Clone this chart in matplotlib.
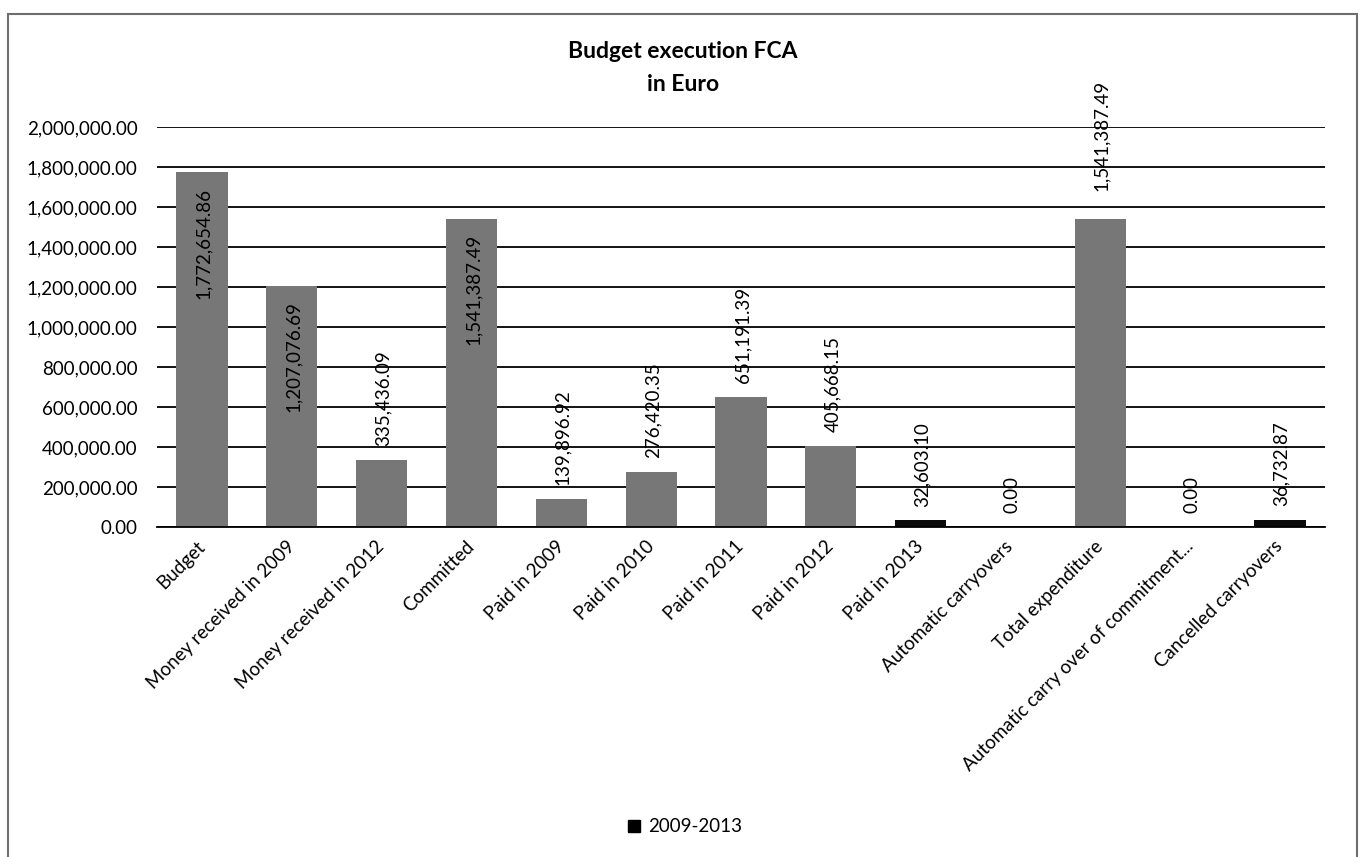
import matplotlib
matplotlib.use("Agg")
import matplotlib.pyplot as plt
from matplotlib.patches import Patch, Rectangle
from matplotlib.ticker import FuncFormatter, MultipleLocator

# categories and amounts (Euro)
categories = [
    "Budget",
    "Money received in 2009",
    "Money received in 2012",
    "Committed",
    "Paid in 2009",
    "Paid in 2010",
    "Paid in 2011",
    "Paid in 2012",
    "Paid in 2013",
    "Automatic carryovers",
    "Total expenditure",
    "Automatic carry over of commitment...",
    "Cancelled carryovers",
]
amounts = [
    1772654.86,
    1207076.69,
    335436.09,
    1541387.49,
    139896.92,
    276420.35,
    651191.39,
    405668.15,
    32603.10,
    0.00,
    1541387.49,
    0.00,
    36732.87,
]
series_name = "2009-2013"


def show_data():
    plt.rcParams['font.family'] = ['Lato', 'DejaVu Sans']
    fig = plt.figure(figsize=(13.6, 8.57), dpi=100)
    ax = fig.add_axes([157 / 1360, 1 - 527 / 857, 1168 / 1360, 400 / 857])

    # bar colours: grey, with the two small ones in black
    dark = {"Paid in 2013", "Cancelled carryovers"}
    colors = ["#0a0a0a" if c in dark else "#777777" for c in categories]
    x = list(range(len(categories)))
    ax.bar(x, amounts, width=0.57, color=colors, zorder=3)

    # value labels: inside the top for the tall bars, above for the rest
    inside = {"Budget", "Money received in 2009", "Committed"}
    for i, (c, v) in enumerate(zip(categories, amounts)):
        txt = "{:,.2f}".format(v)
        if c in inside:
            ax.annotate(txt, (i, v), xytext=(1, -11), textcoords="offset points",
                        rotation=90, rotation_mode="anchor", ha="right", va="center",
                        fontsize=13.5, zorder=5)
        else:
            off = 20 if c == "Total expenditure" else 10
            ax.annotate(txt, (i, v), xytext=(1, off), textcoords="offset points",
                        rotation=90, rotation_mode="anchor", ha="left", va="center",
                        fontsize=13.5, zorder=5)

    ax.set_xlim(-0.5, len(categories) - 0.5)
    ax.set_ylim(0, 2000000)
    ax.yaxis.set_major_locator(MultipleLocator(200000))
    ax.yaxis.set_major_formatter(FuncFormatter(lambda v, p: "{:,.2f}".format(v)))
    ax.yaxis.grid(True, color="black", linewidth=1.3, zorder=1)
    ax.set_axisbelow(True)
    for s in ["left", "right", "top"]:
        ax.spines[s].set_visible(False)
    ax.spines["bottom"].set_linewidth(1.3)
    ax.spines["bottom"].set_zorder(4)
    ax.tick_params(axis="y", length=0, pad=14, labelsize=13.5)
    ax.tick_params(axis="x", length=0, pad=12)
    ax.set_xticks(x)
    ax.set_xticklabels(categories, rotation=45, ha="right", va="center",
                       rotation_mode="anchor", fontsize=13.5)

    # title
    fig.text(683 / 1360, 1 - 68 / 857, "Budget execution FCA\nin Euro", ha="center",
             va="center", fontsize=16.5, fontweight="bold", linespacing=1.7)

    # legend
    fig.legend(handles=[Patch(color="black", label=series_name)], loc="center",
               bbox_to_anchor=(685 / 1360, 1 - 827 / 857), frameon=False,
               fontsize=13.5, handlelength=0.65, handleheight=0.65, handletextpad=0.4)

    # chart area border
    fig.patches.append(Rectangle((8 / 1360, -0.05), 1349 / 1360, 1.05 - 14 / 857,
                                 transform=fig.transFigure, fill=False,
                                 edgecolor="#6e6e6e", linewidth=1.5))

    fig.savefig("out.png", dpi=100)


if __name__ == '__main__':
    show_data()
